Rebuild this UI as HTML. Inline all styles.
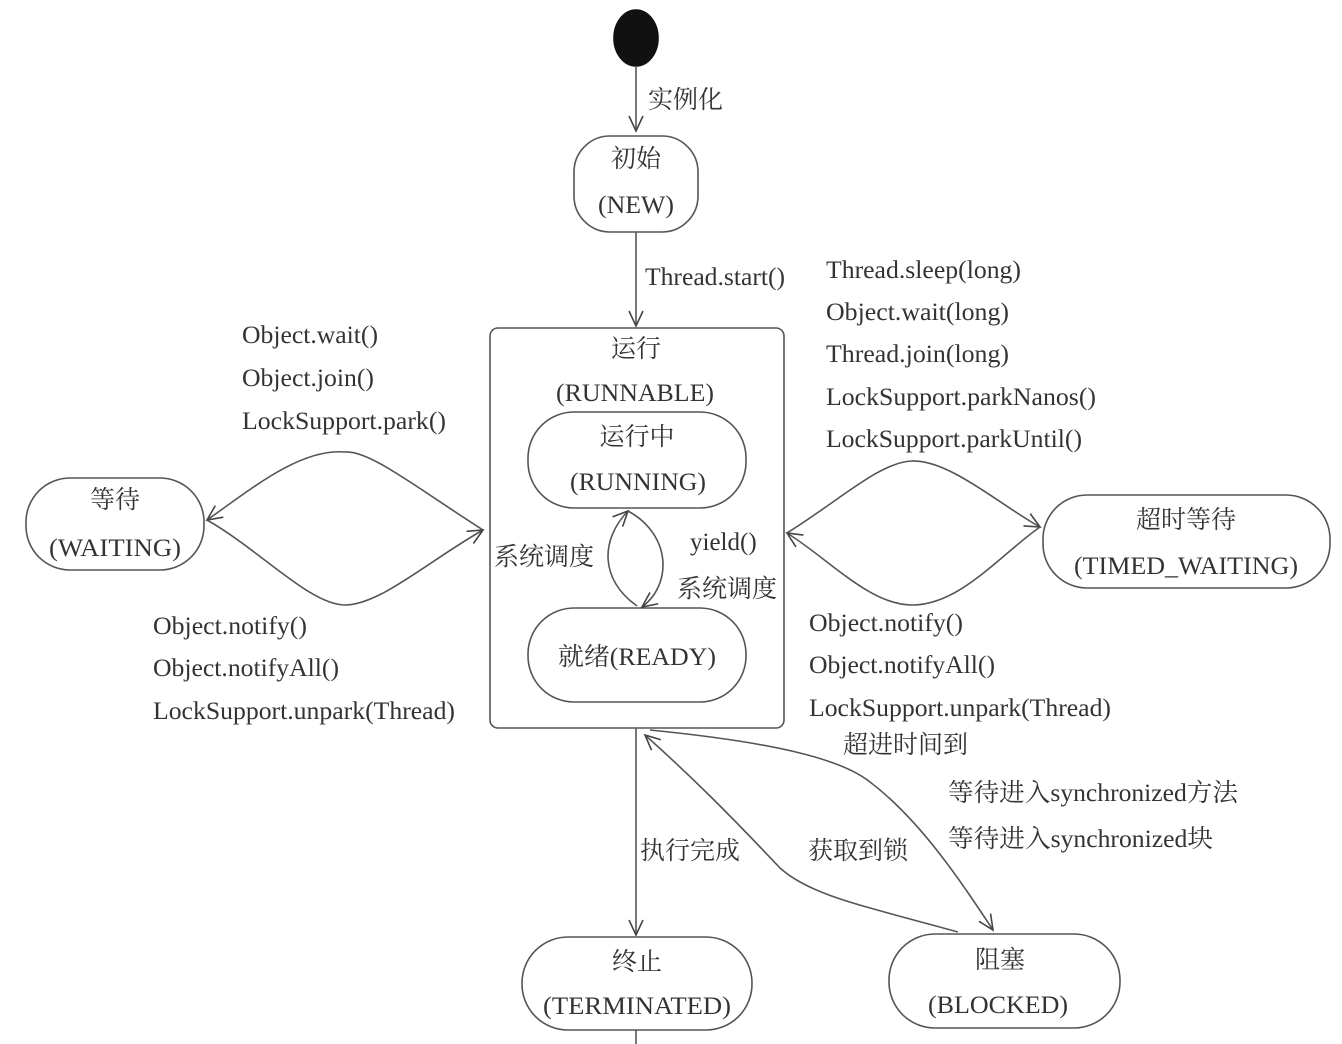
<!DOCTYPE html>
<html><head><meta charset="utf-8"><style>
html,body{margin:0;padding:0;background:#fff;}
svg{display:block;}
text{font-family:"Liberation Serif","Noto Serif CJK SC","Noto Sans CJK SC",serif;font-size:25px;fill:#333;}
</style></head><body>
<svg width="1342" height="1044" viewBox="0 0 1342 1044" xmlns="http://www.w3.org/2000/svg">
<defs>
<marker id="a" markerWidth="20" markerHeight="20" refX="17" refY="10" orient="auto" markerUnits="userSpaceOnUse">
<path d="M2,3 L17,10 L2,17" fill="none" stroke="#444" stroke-width="1.6"/>
</marker>
</defs>
<g fill="none" stroke="#555" stroke-width="1.6">
<ellipse cx="636" cy="38" rx="22" ry="28" fill="#111" stroke="#111"/>
<line x1="636" y1="66" x2="636" y2="131" marker-end="url(#a)"/>
<rect x="574" y="136" width="124" height="96" rx="36"/>
<line x1="636" y1="232" x2="636" y2="326" marker-end="url(#a)"/>
<rect x="490" y="328" width="294" height="400" rx="8"/>
<rect x="528" y="412" width="218" height="96" rx="46"/>
<rect x="528" y="608" width="218" height="94" rx="46"/>
<path d="M637,606 C600,580 600,540 628,511" marker-end="url(#a)"/>
<path d="M628,511 C672,535 672,585 642,607" marker-end="url(#a)"/>
<rect x="26" y="478" width="178" height="92" rx="44"/>
<path d="M483,530 C420,490 370,450 345,452 C300,448 250,490 207,520" marker-end="url(#a)"/>
<path d="M207,520 C260,550 310,605 345,605 C380,605 430,560 483,530" marker-end="url(#a)"/>
<rect x="1043" y="495" width="287" height="93" rx="44"/>
<path d="M787,533 C840,500 880,462 912,461 C950,460 1000,505 1040,527" marker-end="url(#a)"/>
<path d="M1040,527 C1000,555 960,605 912,605 C870,605 830,560 787,533" marker-end="url(#a)"/>
<line x1="636" y1="728" x2="636" y2="935" marker-end="url(#a)"/>
<line x1="636" y1="1030" x2="636" y2="1044"/>
<rect x="522" y="937" width="230" height="93" rx="46"/>
<rect x="889" y="934" width="231" height="94" rx="46"/>
<path d="M958,932 C860,905 810,895 780,868 C730,815 690,775 645,735" marker-end="url(#a)"/>
<path d="M650,730 C770,742 840,758 870,782 C920,820 960,880 993,930" marker-end="url(#a)"/>
</g>
<g>
<text x="648" y="108">实例化</text>
<text x="636" y="167" text-anchor="middle">初始</text>
<text x="636" y="213" text-anchor="middle" textLength="76" lengthAdjust="spacingAndGlyphs">(NEW)</text>
<text x="645" y="285" textLength="140" lengthAdjust="spacingAndGlyphs">Thread.start()</text>
<text x="636" y="357" text-anchor="middle">运行</text>
<text x="556" y="401" textLength="158" lengthAdjust="spacingAndGlyphs">(RUNNABLE)</text>
<text x="637" y="445" text-anchor="middle">运行中</text>
<text x="570" y="490" textLength="136" lengthAdjust="spacingAndGlyphs">(RUNNING)</text>
<text x="558" y="665" textLength="158" lengthAdjust="spacingAndGlyphs">就绪(READY)</text>
<text x="494" y="565">系统调度</text>
<text x="690" y="550">yield()</text>
<text x="677" y="597">系统调度</text>
<text x="115" y="508" text-anchor="middle">等待</text>
<text x="49" y="556" textLength="132" lengthAdjust="spacingAndGlyphs">(WAITING)</text>
<text x="242" y="343" textLength="136" lengthAdjust="spacingAndGlyphs">Object.wait()</text>
<text x="242" y="386" textLength="132" lengthAdjust="spacingAndGlyphs">Object.join()</text>
<text x="242" y="429" textLength="204" lengthAdjust="spacingAndGlyphs">LockSupport.park()</text>
<text x="153" y="634" textLength="154" lengthAdjust="spacingAndGlyphs">Object.notify()</text>
<text x="153" y="676" textLength="186" lengthAdjust="spacingAndGlyphs">Object.notifyAll()</text>
<text x="153" y="719" textLength="302" lengthAdjust="spacingAndGlyphs">LockSupport.unpark(Thread)</text>
<text x="1186" y="528" text-anchor="middle">超时等待</text>
<text x="1074" y="574" textLength="224" lengthAdjust="spacingAndGlyphs">(TIMED_WAITING)</text>
<text x="826" y="278" textLength="195" lengthAdjust="spacingAndGlyphs">Thread.sleep(long)</text>
<text x="826" y="320" textLength="183" lengthAdjust="spacingAndGlyphs">Object.wait(long)</text>
<text x="826" y="362" textLength="183" lengthAdjust="spacingAndGlyphs">Thread.join(long)</text>
<text x="826" y="405" textLength="270" lengthAdjust="spacingAndGlyphs">LockSupport.parkNanos()</text>
<text x="826" y="447" textLength="256" lengthAdjust="spacingAndGlyphs">LockSupport.parkUntil()</text>
<text x="809" y="631" textLength="154" lengthAdjust="spacingAndGlyphs">Object.notify()</text>
<text x="809" y="673" textLength="186" lengthAdjust="spacingAndGlyphs">Object.notifyAll()</text>
<text x="809" y="716" textLength="302" lengthAdjust="spacingAndGlyphs">LockSupport.unpark(Thread)</text>
<text x="843" y="753">超进时间到</text>
<text x="948" y="801" textLength="290" lengthAdjust="spacingAndGlyphs">等待进入synchronized方法</text>
<text x="948" y="847" textLength="265" lengthAdjust="spacingAndGlyphs">等待进入synchronized块</text>
<text x="640" y="859">执行完成</text>
<text x="808" y="859">获取到锁</text>
<text x="637" y="970" text-anchor="middle">终止</text>
<text x="543" y="1014" textLength="188" lengthAdjust="spacingAndGlyphs">(TERMINATED)</text>
<text x="1000" y="968" text-anchor="middle">阻塞</text>
<text x="928" y="1013" textLength="140" lengthAdjust="spacingAndGlyphs">(BLOCKED)</text>
</g>
</svg>
</body></html>
